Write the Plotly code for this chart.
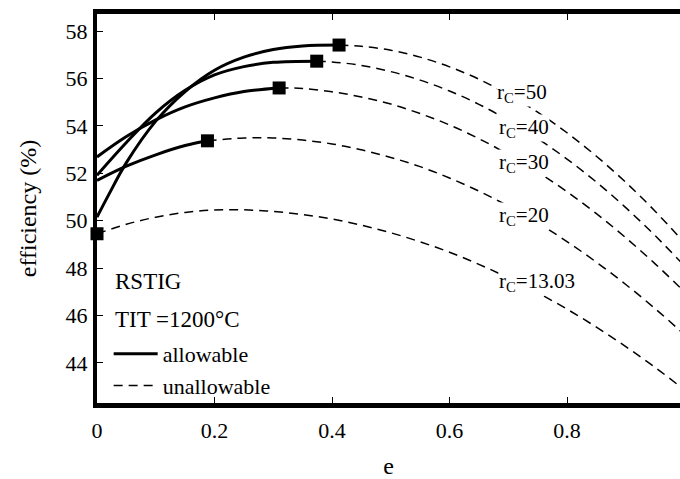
import plotly.graph_objects as go

# ---------------- data ----------------
rc_labels = ["50", "40", "30", "20", "13.03"]

# allowable (solid) parts
e_solid_50 = [0, 0.02, 0.05, 0.1, 0.15, 0.2, 0.25, 0.3, 0.35, 0.412]
eff_solid_50 = [50.15, 51.1, 52.45, 54.2, 55.45, 56.35, 56.9, 57.22, 57.37, 57.41]
e_solid_40 = [0, 0.05, 0.1, 0.15, 0.2, 0.25, 0.3, 0.374]
eff_solid_40 = [51.92, 53.3, 54.55, 55.5, 56.15, 56.5, 56.68, 56.73]
e_solid_30 = [0, 0.05, 0.1, 0.15, 0.2, 0.25, 0.31]
eff_solid_30 = [52.69, 53.55, 54.25, 54.8, 55.18, 55.45, 55.6]
e_solid_20 = [0, 0.05, 0.1, 0.15, 0.188]
eff_solid_20 = [51.7, 52.3, 52.78, 53.17, 53.37]

# unallowable (dashed) parts
e_dash_50 = [0.412, 0.45, 0.5, 0.55, 0.6, 0.65, 0.7, 0.75, 0.8, 0.85, 0.9, 0.95, 1.0]
eff_dash_50 = [57.41, 57.36, 57.19, 56.90, 56.49, 55.97, 55.33, 54.58, 53.71, 52.72, 51.62, 50.40, 49.07]
e_dash_40 = [0.374, 0.4, 0.45, 0.5, 0.55, 0.6, 0.65, 0.7, 0.75, 0.8, 0.85, 0.9, 0.95, 1.0]
eff_dash_40 = [56.73, 56.70, 56.55, 56.29, 55.93, 55.47, 54.91, 54.24, 53.47, 52.60, 51.63, 50.55, 49.37, 48.09]
e_dash_30 = [0.31, 0.35, 0.4, 0.45, 0.5, 0.55, 0.6, 0.65, 0.7, 0.75, 0.8, 0.85, 0.9, 0.95, 1.0]
eff_dash_30 = [55.60, 55.58, 55.44, 55.22, 54.92, 54.52, 54.04, 53.46, 52.80, 52.06, 51.22, 50.30, 49.28, 48.18, 47.00]
e_dash_20 = [0.188, 0.25, 0.3, 0.35, 0.4, 0.45, 0.5, 0.55, 0.6, 0.65, 0.7, 0.75, 0.8, 0.85, 0.9, 0.95, 1.0]
eff_dash_20 = [53.37, 53.49, 53.49, 53.40, 53.24, 52.99, 52.67, 52.28, 51.80, 51.25, 50.62, 49.91, 49.12, 48.25, 47.31, 46.29, 45.19]
e_dash_13 = [0, 0.05, 0.1, 0.15, 0.2, 0.25, 0.3, 0.35, 0.4, 0.45, 0.5, 0.55, 0.6, 0.65, 0.7, 0.75, 0.8, 0.85, 0.9, 0.95, 1.0]
eff_dash_13 = [49.45, 49.85, 50.15, 50.35, 50.45, 50.46, 50.39, 50.26, 50.07, 49.81, 49.49, 49.11, 48.67, 48.16, 47.59, 46.96, 46.27, 45.51, 44.69, 43.81, 42.86]

# limit points (square markers)
e_limit = [0.412, 0.374, 0.31, 0.188, 0]
eff_limit = [57.41, 56.73, 55.6, 53.37, 49.45]

# label anchor positions (data coords)
label_e = [0.679, 0.682, 0.682, 0.682, 0.682]
label_eff = [55.38, 53.90, 52.42, 50.18, 47.40]

x_tickvals = [0, 0.2, 0.4, 0.6, 0.8]
x_ticktext = ["0", "0.2", "0.4", "0.6", "0.8"]
y_tickvals = [44, 46, 48, 50, 52, 54, 56, 58]
y_ticktext = ["44", "46", "48", "50", "52", "54", "56", "58"]

FONT = "Liberation Serif, Times New Roman, DejaVu Serif, serif"
X_RANGE = [0, 0.9923]
Y_RANGE = [42.31, 58.72]

fig = go.Figure()

solid_sets = [(e_solid_50, eff_solid_50), (e_solid_40, eff_solid_40),
              (e_solid_30, eff_solid_30), (e_solid_20, eff_solid_20)]
dash_sets = [(e_dash_50, eff_dash_50), (e_dash_40, eff_dash_40),
             (e_dash_30, eff_dash_30), (e_dash_20, eff_dash_20),
             (e_dash_13, eff_dash_13)]

for xs, ys in dash_sets:
    fig.add_trace(go.Scatter(x=xs, y=ys, mode="lines", line_shape="spline",
                             line=dict(color="black", width=1.5, dash="9px,6px"),
                             showlegend=False, hoverinfo="skip"))
for xs, ys in solid_sets:
    fig.add_trace(go.Scatter(x=xs, y=ys, mode="lines", line_shape="spline",
                             line=dict(color="black", width=3),
                             showlegend=False, hoverinfo="skip"))

fig.add_trace(go.Scatter(x=e_limit, y=eff_limit, mode="markers",
                         marker=dict(symbol="square", size=13, color="black"),
                         cliponaxis=False, showlegend=False, hoverinfo="skip"))

# legend entries
fig.add_trace(go.Scatter(x=[None], y=[None], mode="lines", name="allowable",
                         line=dict(color="black", width=3)))
fig.add_trace(go.Scatter(x=[None], y=[None], mode="lines", name="unallowable",
                         line=dict(color="black", width=1.5, dash="9px,6px")))

for lab, lx, ly in zip(rc_labels, label_e, label_eff):
    fig.add_annotation(x=lx, y=ly, xref="x", yref="y", text="r<sub>C</sub>=" + lab,
                       showarrow=False, xanchor="left", yanchor="middle",
                       bgcolor="white", borderpad=0,
                       font=dict(family=FONT, size=21, color="black"))

fig.add_annotation(x=0.027, y=47.44, xref="x", yref="y", text="RSTIG", showarrow=False,
                   xanchor="left", yanchor="middle", font=dict(family=FONT, size=23, color="black"))
fig.add_annotation(x=0.027, y=45.83, xref="x", yref="y", text="TIT =1200°C", showarrow=False,
                   xanchor="left", yanchor="middle", font=dict(family=FONT, size=23, color="black"))

fig.update_layout(
    width=680, height=479,
    margin=dict(l=97, r=0, t=14, b=76),
    paper_bgcolor="white", plot_bgcolor="white",
    font=dict(family=FONT, size=21, color="black"),
    showlegend=True,
    legend=dict(x=0.02, y=0.18, xanchor="left", yanchor="top",
                bgcolor="rgba(0,0,0,0)", font=dict(family=FONT, size=22, color="black"),
                itemwidth=44, tracegroupgap=0),
    xaxis=dict(range=X_RANGE, tickvals=x_tickvals, ticktext=x_ticktext,
               showgrid=False, zeroline=False, showline=True, linewidth=5, linecolor="black",
               mirror="ticks", ticks="inside", ticklen=6, tickwidth=1, tickcolor="black",
               tickfont=dict(family=FONT, size=22), ticklabelstandoff=4,
               title=dict(text="e", font=dict(family=FONT, size=24), standoff=17)),
    yaxis=dict(range=Y_RANGE, tickvals=y_tickvals, ticktext=y_ticktext,
               showgrid=False, zeroline=False, showline=True, linewidth=4, linecolor="black",
               mirror=False, ticks="inside", ticklen=6, tickwidth=1, tickcolor="black",
               tickfont=dict(family=FONT, size=22), ticklabelstandoff=1,
               title=dict(text="efficiency (%)", font=dict(family=FONT, size=24), standoff=23)),
    yaxis2=dict(range=Y_RANGE, tickvals=y_tickvals, overlaying="y", side="right",
                showgrid=False, zeroline=False, showline=False, ticks="inside", ticklen=5,
                tickwidth=2, tickcolor="black", showticklabels=False),
)

fig.write_html("out.html", config={"displayModeBar": False},
               post_script="document.body.style.margin='0';")
